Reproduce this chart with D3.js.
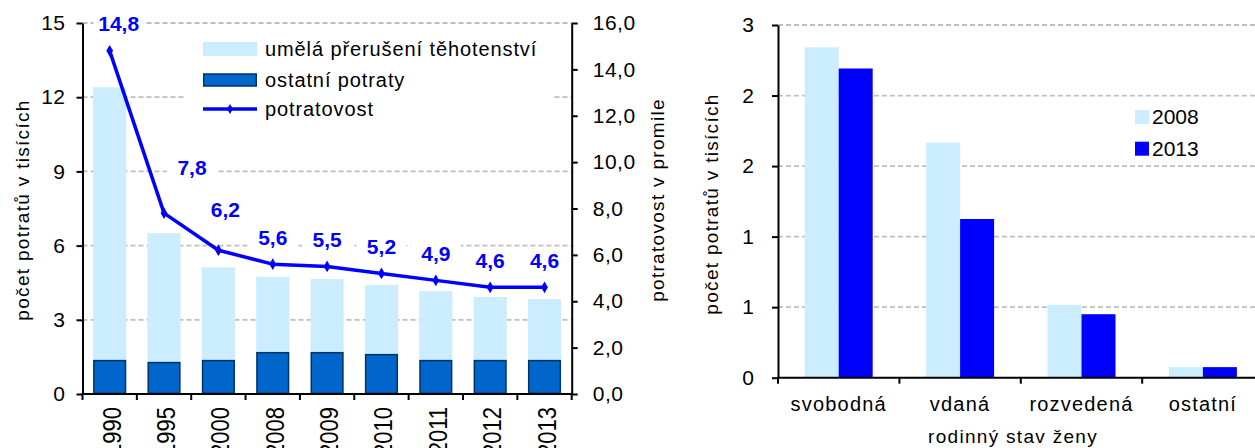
<!DOCTYPE html>
<html>
<head>
<meta charset="utf-8">
<script src="https://cdn.jsdelivr.net/npm/d3@7"></script>
<style>
  body { margin: 0; background: #fff; }
  text { font-family: "Liberation Sans", Arial, sans-serif; }
</style>
</head>
<body>
<div id="chart"></div>
<script>
// data - left chart
var years = ["1990", "1995", "2000", "2008", "2009", "2010", "2011", "2012", "2013"];
var ostatni = [1.35, 1.27, 1.35, 1.67, 1.67, 1.59, 1.35, 1.35, 1.35];
var umela = [11.05, 5.23, 3.77, 3.07, 2.98, 2.82, 2.81, 2.57, 2.49];
var potratovost = [14.8, 7.8, 6.2, 5.6, 5.5, 5.2, 4.9, 4.6, 4.6];
var leftTicks = [0, 3, 6, 9, 12, 15];
var rightTicks = [0, 2, 4, 6, 8, 10, 12, 14, 16];
var legendLeft = ["umělá přerušení těhotenství", "ostatní potraty", "potratovost"];

// data - right chart
var stav = ["svobodná", "vdaná", "rozvedená", "ostatní"];
var rok2008 = [2.81, 2.00, 0.62, 0.09];
var rok2013 = [2.63, 1.35, 0.54, 0.09];
var serieNames = ["2008", "2013"];
var stavTicks = [0, 0.6, 1.2, 1.8, 2.4, 3.0];

// label nudges so the data labels don't sit on the line
var labelNudge = { "1990": [9, 0], "1995": [28, -19], "2000": [7, -14] };

var svgWidth = 1255;
var svgHeight = 448;

var svg = d3.select("#chart")
  .append("svg")
  .attr("width", svgWidth)
  .attr("height", svgHeight);

var lightBlue = "#CCECFF";
var darkBlue = "#0066CC";
var lineBlue = "#0000FF";
var gridColor = "#BFBFBF";

// ---------------- LEFT CHART ----------------
var L = { left: 82.5, right: 571.7, top: 23, bottom: 394 };

var xScale = d3.scaleBand()
  .domain(years)
  .range([L.left, L.right])
  .paddingInner(0.39)
  .paddingOuter(0.195);

var yLeft = d3.scaleLinear().domain([0, 15]).range([L.bottom, L.top]);
var yRight = d3.scaleLinear().domain([0, 16]).range([L.bottom, L.top]);

// gridlines
svg.append("g")
  .selectAll("line")
  .data(leftTicks.filter(d => d > 0))
  .enter()
  .append("line")
  .attr("x1", L.left)
  .attr("x2", L.right)
  .attr("y1", d => yLeft(d))
  .attr("y2", d => yLeft(d))
  .attr("stroke", gridColor)
  .attr("stroke-width", 1.8)
  .attr("stroke-dasharray", "5,3");

var rows = years.map(function(y, i) {
  return { year: y, ostatni: ostatni[i], umela: umela[i], rate: potratovost[i] };
});

// stacked bars: ostatni at bottom, umela on top
svg.append("g")
  .selectAll("rect")
  .data(rows)
  .enter()
  .append("rect")
  .attr("x", d => xScale(d.year))
  .attr("width", xScale.bandwidth())
  .attr("y", d => yLeft(d.ostatni + d.umela))
  .attr("height", d => yLeft(d.ostatni) - yLeft(d.ostatni + d.umela))
  .attr("fill", lightBlue);

svg.append("g")
  .selectAll("rect")
  .data(rows)
  .enter()
  .append("rect")
  .attr("x", d => xScale(d.year) + 0.75)
  .attr("width", xScale.bandwidth() - 1.5)
  .attr("y", d => yLeft(d.ostatni))
  .attr("height", d => yLeft(0) - yLeft(d.ostatni) - 0.75)
  .attr("fill", darkBlue)
  .attr("stroke", "#003366")
  .attr("stroke-width", 1.5);

// legend box (white, hides grid)
svg.append("rect")
  .attr("x", 184)
  .attr("y", 30)
  .attr("width", 368)
  .attr("height", 103)
  .attr("fill", "#fff");

// line
var cx = d => xScale(d.year) + xScale.bandwidth() / 2;
var line = d3.line()
  .x(cx)
  .y(d => yRight(d.rate));

svg.append("path")
  .datum(rows)
  .attr("d", line)
  .attr("fill", "none")
  .attr("stroke", lineBlue)
  .attr("stroke-width", 3.5)
  .attr("stroke-linejoin", "round");

svg.append("g")
  .selectAll("path")
  .data(rows)
  .enter()
  .append("path")
  .attr("d", d3.symbol().type(d3.symbolDiamond).size(40))
  .attr("transform", d => `translate(${cx(d)}, ${yRight(d.rate)})`)
  .attr("fill", lineBlue);

// data labels with white backing
var labels = svg.append("g")
  .selectAll("g")
  .data(rows)
  .enter()
  .append("g")
  .attr("transform", function(d) {
    var n = labelNudge[d.year] || [0, 0];
    return `translate(${cx(d) + n[0]}, ${yRight(d.rate) - 27 + n[1]})`;
  });

labels.append("rect")
  .attr("x", -25)
  .attr("y", -12)
  .attr("width", 50)
  .attr("height", 24)
  .attr("fill", "#fff");

labels.append("text")
  .attr("text-anchor", "middle")
  .attr("dy", "0.36em")
  .style("font-size", "21px")
  .style("font-weight", "bold")
  .attr("fill", lineBlue)
  .text(d => d.rate.toFixed(1).replace(".", ","));

// left axis
var leftAxis = d3.axisLeft(yLeft)
  .tickValues(leftTicks)
  .tickSize(6)
  .tickSizeOuter(0)
  .tickPadding(11);

var gl = svg.append("g")
  .attr("transform", `translate(${L.left}, 0)`)
  .call(leftAxis);

// right axis
var rightAxis = d3.axisRight(yRight)
  .tickValues(rightTicks)
  .tickSize(6)
  .tickSizeOuter(0)
  .tickPadding(15)
  .tickFormat(d => d.toFixed(1).replace(".", ","));

var gr = svg.append("g")
  .attr("transform", `translate(${L.right}, 0)`)
  .call(rightAxis);

[gl, gr].forEach(function(g) {
  g.selectAll("path, line").attr("stroke", "#000").attr("stroke-width", 2);
  g.selectAll("text").style("font-size", "21px").style("letter-spacing", "0.5px").attr("fill", "#000");
});

// x axis line + boundary ticks
svg.append("line")
  .attr("x1", L.left - 1)
  .attr("x2", L.right + 1)
  .attr("y1", L.bottom)
  .attr("y2", L.bottom)
  .attr("stroke", "#000")
  .attr("stroke-width", 2);

var step = xScale.step();
svg.append("g")
  .selectAll("line")
  .data(d3.range(years.length + 1))
  .enter()
  .append("line")
  .attr("x1", i => xScale(years[0]) - xScale.paddingOuter() * step + i * step)
  .attr("x2", i => xScale(years[0]) - xScale.paddingOuter() * step + i * step)
  .attr("y1", L.bottom)
  .attr("y2", L.bottom + 6)
  .attr("stroke", "#000")
  .attr("stroke-width", 2);

// year labels (rotated, cut by the bottom edge as in the source)
svg.append("g")
  .selectAll("text")
  .data(years)
  .enter()
  .append("text")
  .attr("transform", d => `translate(${xScale(d) + xScale.bandwidth() / 2 + 11}, 407) rotate(-90) scale(1, 1.15)`)
  .attr("text-anchor", "end")
  .style("font-size", "22px")
  .text(d => d);

// legend
var legRows = [49, 80, 109];
svg.append("rect")
  .attr("x", 203).attr("y", legRows[0] - 7)
  .attr("width", 54).attr("height", 14)
  .attr("fill", lightBlue);
svg.append("rect")
  .attr("x", 203.75).attr("y", legRows[1] - 6)
  .attr("width", 52.5).attr("height", 12)
  .attr("fill", darkBlue)
  .attr("stroke", "#003366")
  .attr("stroke-width", 1.5);
svg.append("line")
  .attr("x1", 203).attr("x2", 257)
  .attr("y1", legRows[2]).attr("y2", legRows[2])
  .attr("stroke", lineBlue)
  .attr("stroke-width", 3.5);
svg.append("path")
  .attr("d", d3.symbol().type(d3.symbolDiamond).size(30))
  .attr("transform", `translate(230, ${legRows[2]})`)
  .attr("fill", lineBlue);

svg.append("g")
  .selectAll("text")
  .data(legendLeft)
  .enter()
  .append("text")
  .attr("x", 265)
  .attr("y", (d, i) => legRows[i] + 7)
  .style("font-size", "20px")
  .style("letter-spacing", "0.9px")
  .text(d => d);

// axis titles
svg.append("text")
  .attr("transform", "translate(29, 210) rotate(-90)")
  .attr("text-anchor", "middle")
  .style("font-size", "19px")
  .style("letter-spacing", "1.3px")
  .text("počet potratů v tisících");

svg.append("text")
  .attr("transform", "translate(664, 200) rotate(-90)")
  .attr("text-anchor", "middle")
  .style("font-size", "19px")
  .style("letter-spacing", "1.3px")
  .text("potratovost v promile");

// ---------------- RIGHT CHART ----------------
var R = { left: 778, right: 1263.6, top: 25, bottom: 377.7 };

var x0 = d3.scaleBand()
  .domain(stav)
  .range([R.left, R.right])
  .paddingInner(0.44)
  .paddingOuter(0.22);

var x1 = d3.scaleBand()
  .domain(serieNames)
  .range([0, x0.bandwidth()]);

var y2 = d3.scaleLinear().domain([0, 3]).range([R.bottom, R.top]);

svg.append("g")
  .selectAll("line")
  .data(stavTicks.filter(d => d > 0))
  .enter()
  .append("line")
  .attr("x1", R.left)
  .attr("x2", svgWidth)
  .attr("y1", d => y2(d))
  .attr("y2", d => y2(d))
  .attr("stroke", gridColor)
  .attr("stroke-width", 1.8)
  .attr("stroke-dasharray", "5,3");

var groups = stav.map(function(s, i) {
  return { stav: s, values: [rok2008[i], rok2013[i]] };
});
var barColors = [lightBlue, lineBlue];

svg.append("g")
  .selectAll("g")
  .data(groups)
  .enter()
  .append("g")
  .attr("transform", d => `translate(${x0(d.stav)}, 0)`)
  .selectAll("rect")
  .data(d => d.values.map((v, j) => ({ key: serieNames[j], value: v, color: barColors[j] })))
  .enter()
  .append("rect")
  .attr("x", d => x1(d.key))
  .attr("width", x1.bandwidth())
  .attr("y", d => y2(d.value))
  .attr("height", d => y2(0) - y2(d.value))
  .attr("fill", d => d.color);

var axisR2 = d3.axisLeft(y2)
  .tickValues(stavTicks)
  .tickFormat(d3.format(".0f"))
  .tickSize(6)
  .tickSizeOuter(0)
  .tickPadding(18);

var g2 = svg.append("g")
  .attr("transform", `translate(${R.left}, 0)`)
  .call(axisR2);
g2.selectAll("path, line").attr("stroke", "#000").attr("stroke-width", 2);
g2.selectAll("text").style("font-size", "21px").attr("fill", "#000");

svg.append("line")
  .attr("x1", R.left - 1)
  .attr("x2", svgWidth)
  .attr("y1", R.bottom)
  .attr("y2", R.bottom)
  .attr("stroke", "#000")
  .attr("stroke-width", 2);

var step2 = x0.step();
svg.append("g")
  .selectAll("line")
  .data(d3.range(stav.length + 1))
  .enter()
  .append("line")
  .attr("x1", i => R.left + i * step2)
  .attr("x2", i => R.left + i * step2)
  .attr("y1", R.bottom)
  .attr("y2", R.bottom + 6)
  .attr("stroke", "#000")
  .attr("stroke-width", 2);

svg.append("g")
  .selectAll("text")
  .data(stav)
  .enter()
  .append("text")
  .attr("x", d => x0(d) + x0.bandwidth() / 2)
  .attr("y", 411)
  .attr("text-anchor", "middle")
  .style("font-size", "20px")
  .style("letter-spacing", "1.2px")
  .text(d => d);

svg.append("text")
  .attr("x", 1013)
  .attr("y", 443)
  .attr("text-anchor", "middle")
  .style("font-size", "19px")
  .style("letter-spacing", "1.3px")
  .text("rodinný stav ženy");

svg.append("text")
  .attr("transform", "translate(718, 204) rotate(-90)")
  .attr("text-anchor", "middle")
  .style("font-size", "19px")
  .style("letter-spacing", "1.3px")
  .text("počet potratů v tisících");

// right legend
var leg2 = svg.append("g")
  .selectAll("g")
  .data(serieNames)
  .enter()
  .append("g")
  .attr("transform", (d, i) => `translate(1135, ${110 + i * 31.7})`);

leg2.append("rect")
  .attr("width", 14)
  .attr("height", 14)
  .attr("fill", (d, i) => barColors[i]);

leg2.append("text")
  .attr("x", 17)
  .attr("y", 14)
  .style("font-size", "21px")
  .text(d => d);
</script>
</body>
</html>
